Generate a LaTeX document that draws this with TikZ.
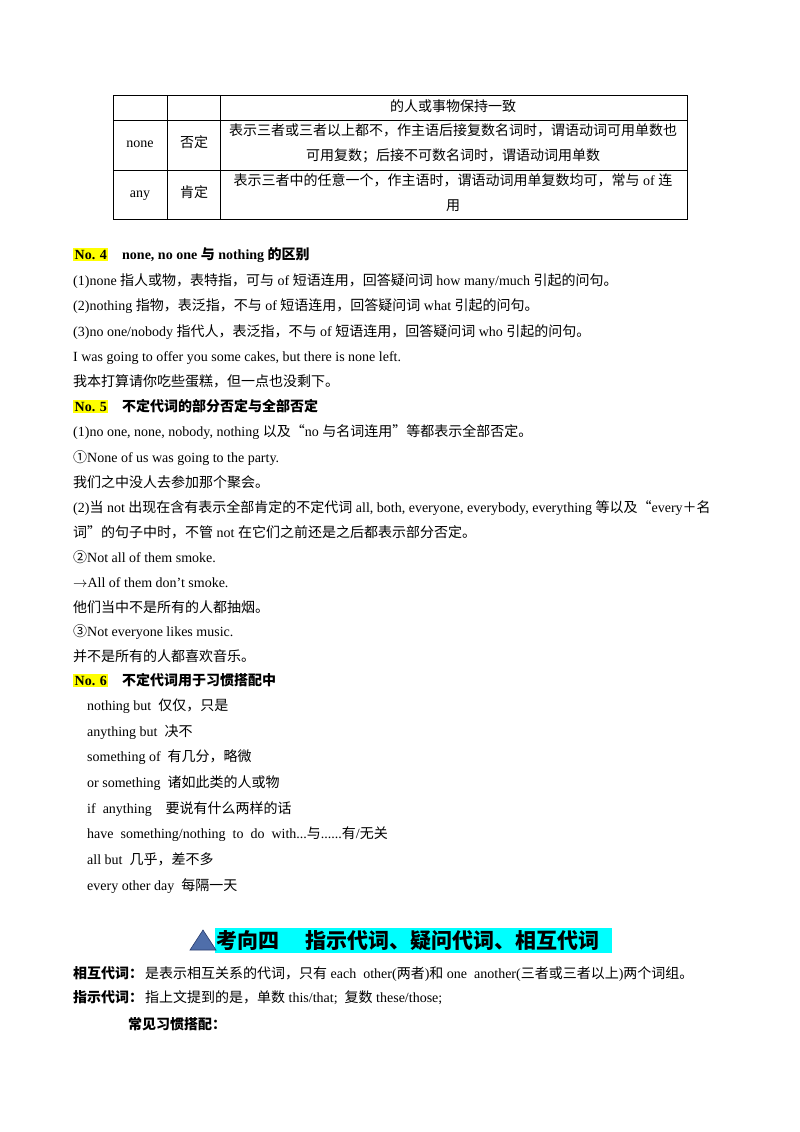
\documentclass[tikz,border=0pt]{standalone}
\usepackage{fontspec}
\setmainfont{Liberation Serif}
\newfontfamily\cjk{Noto Sans CJK SC}
\newcommand\latn{\rmfamily}
\definecolor{hlcyan}{RGB}{0,255,255}
\definecolor{hlyellow}{RGB}{255,255,0}
\definecolor{trifill}{RGB}{79,110,170}
\definecolor{triedge}{RGB}{40,60,110}
\XeTeXinterchartokenstate=1
\newXeTeXintercharclass\cjkcls
\newcount\cc
\def\setcls#1#2{\cc=#1\relax\loop\XeTeXcharclass\cc=\cjkcls\advance\cc1\relax\ifnum\cc<#2\repeat}
\setcls{"4E00}{"A000}
\setcls{"3000}{"3040}
\setcls{"FF00}{"FFF0}
\setcls{"2460}{"2500}
\setcls{"201C}{"201E}
\XeTeXinterchartoks 0 \cjkcls={\cjk}
\XeTeXinterchartoks \cjkcls 0={\latn}
\XeTeXinterchartoks 4095 \cjkcls={\cjk}
\XeTeXinterchartoks \cjkcls 4095={\latn}
\begin{document}
\begin{tikzpicture}[x=1pt,y=-1pt,
  t/.style={anchor=base west,inner sep=0,font=\fontsize{14}{16}\selectfont},
  tc/.style={anchor=base,inner sep=0,font=\fontsize{14}{16}\selectfont},
  hd/.style={anchor=base west,inner sep=0,font=\fontsize{14}{16}\selectfont\bfseries},
  no/.style={anchor=base west,inner sep=1.5pt,fill=hlyellow,font=\fontsize{14}{16}\selectfont\bfseries}]
\useasboundingbox (0,0) rectangle (800,1132);
\fill[white] (0,0) rectangle (800,1132);
% table
\draw[line width=0.8pt] (113,95) rectangle (687,219);
\draw[line width=0.6pt] (113,120) -- (687,120) (113,170) -- (687,170)
  (167,95) -- (167,219) (220,95) -- (220,219);
\node[tc] (r1) at (453,111) {的人或事物保持一致};
\node[tc] (n1) at (140,147) {none};
\node[tc] (n2) at (194,147) {否定};
\node[tc] (n3) at (453,135) {表示三者或三者以上都不，作主语后接复数名词时，谓语动词可用单数也};
\node[tc] (n4) at (453,160) {可用复数；后接不可数名词时，谓语动词用单数};
\node[tc] (a1) at (140,197) {any};
\node[tc] (a2) at (194,197) {肯定};
\node[tc] (a3) at (453,185) {表示三者中的任意一个，作主语时，谓语动词用单复数均可，常与 of 连};
\node[tc] (a4) at (453,210) {用};
% No.4
\node[no] (no4) at (73,259) {No. 4};
\node[hd] (h4) at (122,259) {none, no one 与 nothing 的区别};
\node[t] (l1) at (73,285) {(1)none 指人或物，表特指，可与 of 短语连用，回答疑问词 how many/much 引起的问句。};
\node[t] (l2) at (73,310) {(2)nothing 指物，表泛指，不与 of 短语连用，回答疑问词 what 引起的问句。};
\node[t] (l3) at (73,336) {(3)no one/nobody 指代人，表泛指，不与 of 短语连用，回答疑问词 who 引起的问句。};
\node[t] (l4) at (73,361) {I was going to offer you some cakes, but there is none left.};
\node[t] (l5) at (73,386) {我本打算请你吃些蛋糕，但一点也没剩下。};
% No.5
\node[no] (no5) at (73,411) {No. 5};
\node[hd] (h5) at (122,411) {不定代词的部分否定与全部否定};
\node[t] (m1) at (73,436) {(1)no one, none, nobody, nothing 以及“no 与名词连用”等都表示全部否定。};
\node[t] (m2) at (73,462) {①None of us was going to the party.};
\node[t] (m3) at (73,487) {我们之中没人去参加那个聚会。};
\node[t] (m4) at (73,512) {(2)当 not 出现在含有表示全部肯定的不定代词 all, both, everyone, everybody, everything 等以及“every＋名};
\node[t] (m5) at (73,537) {词”的句子中时，不管 not 在它们之前还是之后都表示部分否定。};
\node[t] (m6) at (73,562) {②Not all of them smoke.};
\node[t] (m7) at (73,587) {$\rightarrow$All of them don't smoke.};
\node[t] (m8) at (73,612) {他们当中不是所有的人都抽烟。};
\node[t] (m9) at (73,636) {③Not everyone likes music.};
\node[t] (m10) at (73,661) {并不是所有的人都喜欢音乐。};
% No.6
\node[no] (no6) at (73,685) {No. 6};
\node[hd] (h6) at (122,685) {不定代词用于习惯搭配中};
\node[t] (k1) at (87,710) {nothing but\ \ 仅仅，只是};
\node[t] (k2) at (87,736) {anything but\ \ 决不};
\node[t] (k3) at (87,761) {something of\ \ 有几分，略微};
\node[t] (k4) at (87,787) {or something\ \ 诸如此类的人或物};
\node[t] (k5) at (87,813) {if\ \ anything\ \ \ \ 要说有什么两样的话};
\node[t] (k6) at (87,838) {have\ \ something/nothing\ \ to\ \ do\ \ with...与......有/无关};
\node[t] (k7) at (87,864) {all but\ \ 几乎，差不多};
\node[t] (k8) at (87,890) {every other day\ \ 每隔一天};
% heading
\fill[hlcyan] (215,928) rectangle (612,953);
\filldraw[fill=trifill, draw=triedge, line width=0.6pt] (190,950) -- (203,930) -- (216,950) -- cycle;
\node[anchor=base west,inner sep=0,font=\fontsize{21}{24}\selectfont\bfseries] (hh) at (216,948) {考向四\hspace{26pt}指示代词、疑问代词、相互代词};
\node[hd] (p1) at (73,978) {相互代词：};
\node[t] (p1b) at (145,978) {是表示相互关系的代词，只有 each\ \ other(两者)和 one\ \ another(三者或三者以上)两个词组。};
\node[hd] (p2) at (73,1002) {指示代词：};
\node[t] (p2b) at (145,1002) {指上文提到的是，单数 this/that;\ \ 复数 these/those;};
\node[hd] (p3) at (128,1029) {常见习惯搭配：};
\end{tikzpicture}
\end{document}
